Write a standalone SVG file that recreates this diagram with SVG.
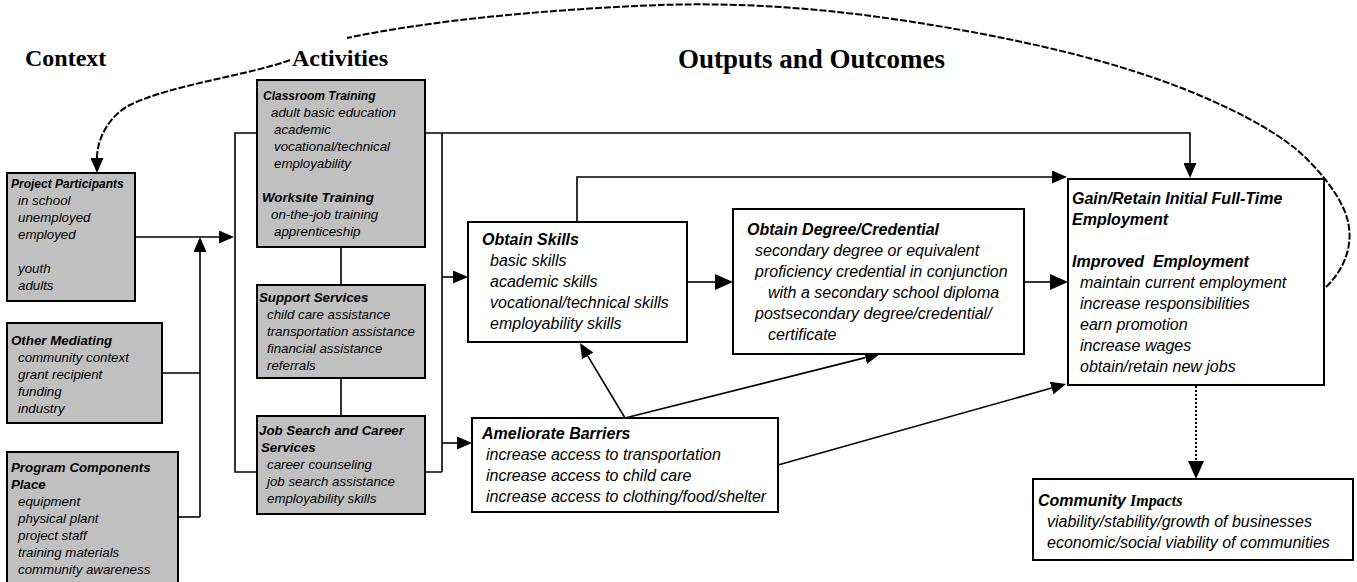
<svg xmlns="http://www.w3.org/2000/svg" width="1357" height="582" viewBox="0 0 1357 582">
<style>
.box{fill:#fff;stroke:#000;stroke-width:2}
.gbox{fill:#c0c0c0;stroke:#000;stroke-width:2}
text{font-family:'Liberation Sans',Arial,sans-serif;font-style:italic;fill:#000}
.s{font-size:13.3px}
.s12{font-size:12px}
.m{font-size:16px}
.b{font-weight:bold}
.hd{font-family:'Liberation Serif','Times New Roman',serif;font-weight:bold;font-style:normal}
.ln{fill:none;stroke:#000;stroke-width:1.6}
.dash{fill:none;stroke:#000;stroke-width:2;stroke-dasharray:7 2}
.dot{fill:none;stroke:#000;stroke-width:2;stroke-dasharray:2 2}
</style>
<defs>
<marker id="a" markerUnits="userSpaceOnUse" markerWidth="15" markerHeight="13" viewBox="0 0 15 13" refX="0" refY="6.5" orient="auto"><path d="M0,0 L15,6.5 L0,13 z" fill="#000"/></marker>
<marker id="L" markerUnits="userSpaceOnUse" markerWidth="18" markerHeight="16" viewBox="0 0 18 16" refX="0" refY="8" orient="auto"><path d="M0,0 L18,8 L0,16 z" fill="#000"/></marker>
</defs>
<rect width="1357" height="582" fill="#fff"/>

<g id="headers">
<text class="hd" x="25" y="66" font-size="24">Context</text>
<text class="hd" x="292" y="66" font-size="24">Activities</text>
<text class="hd" x="678" y="68" font-size="27">Outputs and Outcomes</text>
</g>

<g id="connectors">
<path class="dash" d="M1326,287 C1346,268 1356,240 1345,212 C1337,192 1318,168 1297,150 C1276,132 1230,105 1160,80 C1090,55 1000,35 900,20 C800,5 720,3 660,5 C600,7 520,13 460,20 C420,25 385,30 347,38 M290,60 C250,75 170,85 130,105 C110,115 97,138 97,158" marker-end="url(#a)"/>
<path class="ln" d="M135,237 H219" marker-end="url(#a)"/>
<path class="ln" d="M200,517 V252" marker-end="url(#a)"/>
<path class="ln" d="M162,373 H200"/>
<path class="ln" d="M178,517 H200"/>
<path class="ln" d="M257,133 H235 V472 H257"/>
<path class="ln" d="M341,247 V285 M341,378 V416"/>
<path class="ln" d="M442,133 V472 M425,472 H442"/>
<path class="ln" d="M425,133 H1190 V163" marker-end="url(#a)"/>
<path class="ln" d="M442,277 H453" marker-end="url(#a)"/>
<path class="ln" d="M442,443 H457" marker-end="url(#a)"/>
<path class="ln" d="M687,282 H715" marker-end="url(#L)"/>
<path class="ln" d="M577,222 V177 H1052" marker-end="url(#a)"/>
<path class="ln" d="M1024,282 H1050" marker-end="url(#L)"/>
<path class="ln" d="M625,418 L587.7,355.9" marker-end="url(#a)"/>
<path class="ln" d="M625,418 L865.4,357.6" marker-end="url(#a)"/>
<path class="ln" d="M778,465 L1051.6,388.1" marker-end="url(#a)"/>
<path class="dot" d="M1196,386 V461" marker-end="url(#L)"/>
</g>

<g id="project-participants">
<rect class="gbox" x="7" y="173" width="128" height="128"/>
<text class="s12 b" x="11" y="188">Project Participants</text>
<text class="s" x="18" y="205">in school</text>
<text class="s" x="18" y="222">unemployed</text>
<text class="s" x="18" y="239">employed</text>
<text class="s" x="18" y="273">youth</text>
<text class="s" x="18" y="290">adults</text>
</g>

<g id="other-mediating">
<rect class="gbox" x="7" y="323" width="155" height="100"/>
<text class="s b" x="11" y="345">Other Mediating</text>
<text class="s" x="18" y="362">community context</text>
<text class="s" x="18" y="379">grant recipient</text>
<text class="s" x="18" y="396">funding</text>
<text class="s" x="18" y="413">industry</text>
</g>

<g id="program-components">
<rect class="gbox" x="7" y="452" width="171" height="140"/>
<text class="s b" x="11" y="472">Program Components</text>
<text class="s b" x="11" y="489">Place</text>
<text class="s" x="18" y="506">equipment</text>
<text class="s" x="18" y="523">physical plant</text>
<text class="s" x="18" y="540">project staff</text>
<text class="s" x="18" y="557">training materials</text>
<text class="s" x="18" y="574">community awareness</text>
</g>

<g id="classroom-training">
<rect class="gbox" x="257" y="80" width="168" height="167"/>
<text class="s12 b" x="263" y="100">Classroom Training</text>
<text class="s" x="271" y="117">adult basic education</text>
<text class="s" x="274" y="134">academic</text>
<text class="s" x="274" y="151">vocational/technical</text>
<text class="s" x="274" y="168">employability</text>
<text class="s b" x="262" y="202">Worksite Training</text>
<text class="s" x="271" y="219">on-the-job training</text>
<text class="s" x="274" y="236">apprenticeship</text>
</g>

<g id="support-services">
<rect class="gbox" x="257" y="285" width="168" height="93"/>
<text class="s b" x="259" y="302">Support Services</text>
<text class="s" x="267" y="319">child care assistance</text>
<text class="s" x="267" y="336">transportation assistance</text>
<text class="s" x="267" y="353">financial assistance</text>
<text class="s" x="267" y="370">referrals</text>
</g>

<g id="job-search">
<rect class="gbox" x="257" y="416" width="168" height="98"/>
<text class="s b" x="259" y="435">Job Search and Career</text>
<text class="s b" x="261" y="452">Services</text>
<text class="s" x="267" y="469">career counseling</text>
<text class="s" x="267" y="486">job search assistance</text>
<text class="s" x="267" y="503">employability skills</text>
</g>

<g id="obtain-skills">
<rect class="box" x="468" y="222" width="219" height="120"/>
<text class="m b" x="482" y="245">Obtain Skills</text>
<text class="m" x="490" y="266">basic skills</text>
<text class="m" x="490" y="287">academic skills</text>
<text class="m" x="490" y="308">vocational/technical skills</text>
<text class="m" x="490" y="329">employability skills</text>
</g>

<g id="obtain-degree">
<rect class="box" x="733" y="209" width="291" height="145"/>
<text class="m b" x="747" y="235">Obtain Degree/Credential</text>
<text class="m" x="755" y="256">secondary degree or equivalent</text>
<text class="m" x="755" y="277">proficiency credential in conjunction</text>
<text class="m" x="768" y="298">with a secondary school diploma</text>
<text class="m" x="755" y="319">postsecondary degree/credential/</text>
<text class="m" x="768" y="340">certificate</text>
</g>

<g id="employment">
<rect class="box" x="1068" y="179" width="256" height="206"/>
<text class="m b" x="1072" y="204">Gain/Retain Initial Full-Time</text>
<text class="m b" x="1072" y="225">Employment</text>
<text class="m b" x="1072" y="267">Improved&#160; Employment</text>
<text class="m" x="1080" y="288">maintain current employment</text>
<text class="m" x="1080" y="309">increase responsibilities</text>
<text class="m" x="1080" y="330">earn promotion</text>
<text class="m" x="1080" y="351">increase wages</text>
<text class="m" x="1080" y="372">obtain/retain new jobs</text>
</g>

<g id="ameliorate-barriers">
<rect class="box" x="472" y="418" width="306" height="94"/>
<text class="m b" x="482" y="439">Ameliorate Barriers</text>
<text class="m" x="486" y="460">increase access to transportation</text>
<text class="m" x="486" y="481">increase access to child care</text>
<text class="m" x="486" y="502">increase access to clothing/food/shelter</text>
</g>

<g id="community-impacts">
<rect class="box" x="1033" y="479" width="320" height="81"/>
<text class="m b" x="1038" y="506">Community<tspan font-family="'Liberation Serif','Times New Roman',serif"> Impacts</tspan></text>
<text class="m" x="1047" y="527">viability/stability/growth of businesses</text>
<text class="m" x="1047" y="548">economic/social viability of communities</text>
</g>
</svg>
